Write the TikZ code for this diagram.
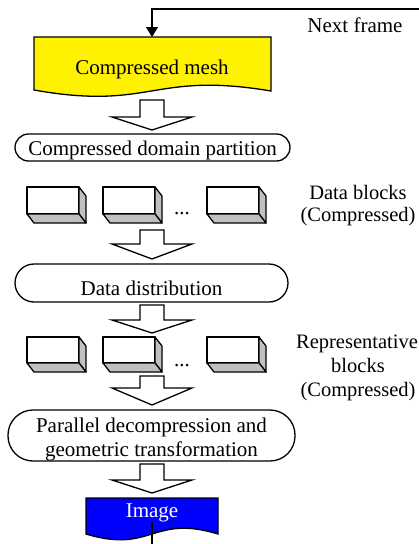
\documentclass[tikz,border=0pt]{standalone}
\usepackage{fontspec}
\setmainfont{Liberation Serif}
\usetikzlibrary{arrows.meta}
\definecolor{shade}{HTML}{C0C0C0}
\newcommand{\blockarr}[3]{\draw[blockarrow] (140,#1) -- (164,#1) -- (164,#2) -- (192,#2) -- (152,#3) -- (112,#2) -- (140,#2) -- cycle;}
\newcommand{\cubebox}[3]{%
  \filldraw[face, fill=white] (#1,#2) rectangle ++(52,#3);
  \filldraw[face, fill=shade] (#1+52,#2) -- ++(7,9) -- ++(0,#3) -- ++(-7,-9) -- cycle;
  \filldraw[face, fill=shade] (#1,#2+#3) -- ++(52,0) -- ++(7,9) -- ++(-52,0) -- cycle;}
\begin{document}
\begin{tikzpicture}[x=1pt,y=-1pt,
  txt/.style={font=\fontsize{21}{24}\selectfont, inner sep=0pt, anchor=base},
  side/.style={font=\fontsize{20.5}{24}\selectfont, inner sep=0pt, anchor=base},
  outline/.style={draw=black, line width=1.3pt},
  stadium/.style={outline, fill=white, inner sep=0pt},
  blockarrow/.style={draw=black, line width=1.3pt, fill=white, line join=miter},
  face/.style={draw=black, line width=1.3pt, line join=round},
  conn/.style={draw=black, line width=1.3pt},
]
\useasboundingbox (0,0) rectangle (419,544);

% Compressed mesh (document shape)
\draw[outline, fill=yellow] (34,37) -- (271,37) -- (271,91)
  .. controls (152,71) and (152,111) .. (34,90) -- cycle;
\node[txt] (mesh) at (152,74) {Compressed mesh};
\coordinate (meshtop) at (152,37);

% feedback loop
\coordinate (fbR) at (420,9);
\coordinate (fbL) at (152,9);
\draw[conn, -{Triangle[width=12pt,length=10pt]}] (fbR) -- (fbL) -- (meshtop);
\node[txt] (next) at (355,32) {Next frame};

% arrow 1
\blockarr{100}{117}{130}

% Compressed domain partition
\node[stadium, minimum width=275pt, minimum height=27pt, rounded corners=13.5pt] (cdpbox) at (152.5,147.5) {};
\node[txt] (cdp) at (152.5,155) {Compressed domain partition};

% data blocks
\cubebox{27}{187}{27}
\cubebox{103}{187}{27}
\cubebox{207}{187}{27}
\node[txt] (dots1) at (182,214) {...};
\node[side] (db1) at (358,199) {Data blocks};
\node[side] (db2) at (358,221) {(Compressed)};

% arrow 2
\blockarr{230}{244}{259}

% Data distribution
\node[stadium, minimum width=273pt, minimum height=38pt, rounded corners=19pt] (ddbox) at (151.5,283) {};
\node[txt] (dd) at (151.5,295) {Data distribution};

% arrow 3
\blockarr{305}{320}{333}

% representative blocks
\cubebox{27}{337}{26}
\cubebox{103}{337}{26}
\cubebox{207}{337}{26}
\node[txt] (dots2) at (182,366) {...};
\node[side] (rb1) at (357,348) {Representative};
\node[side] (rb2) at (358,372) {blocks};
\node[side] (rb3) at (358,396) {(Compressed)};

% arrow 4
\blockarr{376}{388}{405}

% Parallel decompression
\node[stadium, minimum width=287pt, minimum height=51pt, rounded corners=25pt] (pdgbox) at (151.5,435.5) {};
\node[txt] (pdg1) at (151.5,432) {Parallel decompression and};
\node[txt] (pdg2) at (151.5,456) {geometric transformation};

% arrow 5
\blockarr{464}{480}{493}

% Image (document shape)
\draw[outline, fill=blue] (86,498) -- (218,498) -- (218,534)
  .. controls (152,514) and (152,554) .. (86,534) -- cycle;
\node[txt, text=white] (img) at (152,517) {Image};
\coordinate (imgline) at (152,522);
\coordinate (offbottom) at (152,545);
\draw[conn] (imgline) -- (offbottom);
\end{tikzpicture}
\end{document}
